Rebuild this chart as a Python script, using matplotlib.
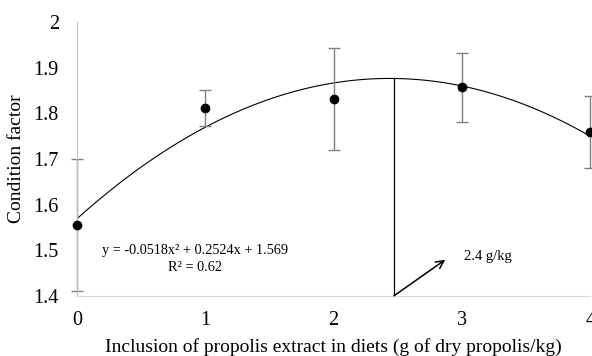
import matplotlib
matplotlib.use('Agg')
import matplotlib.pyplot as plt
import numpy as np

# propolis level (g/kg) vs condition factor
levels = [0, 1, 2, 3, 4]
cond_factor = [1.555, 1.812, 1.832, 1.857, 1.759]
cond_err = [0.145, 0.040, 0.112, 0.076, 0.078]

# trendline shown on the chart: y = a x^2 + b x + c
trend_coef = [-0.0518, 0.2524, 1.569]
optimum = 2.47

plt.rcParams['font.family'] = ['Liberation Serif', 'DejaVu Serif']

fig = plt.figure(figsize=(5.92, 3.56), dpi=100)
ax = fig.add_axes([0.130, 0.169, 0.867, 0.769])

xs = np.linspace(0, 4, 200)
ax.plot(xs, np.polyval(trend_coef, xs), color="black", lw=0.8)

ax.errorbar(levels, cond_factor, yerr=cond_err, fmt="none", ecolor="#808080",
            elinewidth=1.0, capsize=4, capthick=1.0, clip_on=False)
ax.plot(levels, cond_factor, "o", color="black", markersize=6, clip_on=False, zorder=5)

# vertical line at optimum + arrow
peak = np.polyval(trend_coef, optimum)
ax.plot([optimum, optimum], [1.4, peak], color="black", lw=0.9)
ax.annotate("", xy=(2.87, 1.479), xytext=(optimum, 1.4),
            arrowprops=dict(arrowstyle="->", color="black", lw=1.1, mutation_scale=14,
                            shrinkA=0, shrinkB=0),
            annotation_clip=False)
ax.text(3.02, 1.487, "2.4 g/kg", fontsize=10.5, va="center", ha="left")

ax.text(0.92, 1.500, "y = -0.0518x² + 0.2524x + 1.569", fontsize=10.3, ha="center", va="center")
ax.text(0.92, 1.463, "R² = 0.62", fontsize=10.3, ha="center", va="center")

ax.set_xlim(0, 4)
ax.set_ylim(1.4, 2.0)
ax.set_xticks(levels)
ax.set_yticks([1.4, 1.5, 1.6, 1.7, 1.8, 1.9, 2.0])
ax.set_yticklabels(["1.4", "1.5", "1.6", "1.7", "1.8", "1.9", "2"])
ax.tick_params(length=0, labelsize=14.5)
ax.tick_params(axis="y", pad=13)
ax.tick_params(axis="x", pad=11)

for s in ["top", "right"]:
    ax.spines[s].set_visible(False)
ax.spines["left"].set_color("#bfbfbf")
ax.spines["bottom"].set_color("#d9d9d9")

ax.set_xlabel("Inclusion of propolis extract in diets (g of dry propolis/kg)", fontsize=14, labelpad=6)
ax.set_ylabel("Condition factor", fontsize=14, labelpad=6)

fig.savefig("out.png", dpi=100)
